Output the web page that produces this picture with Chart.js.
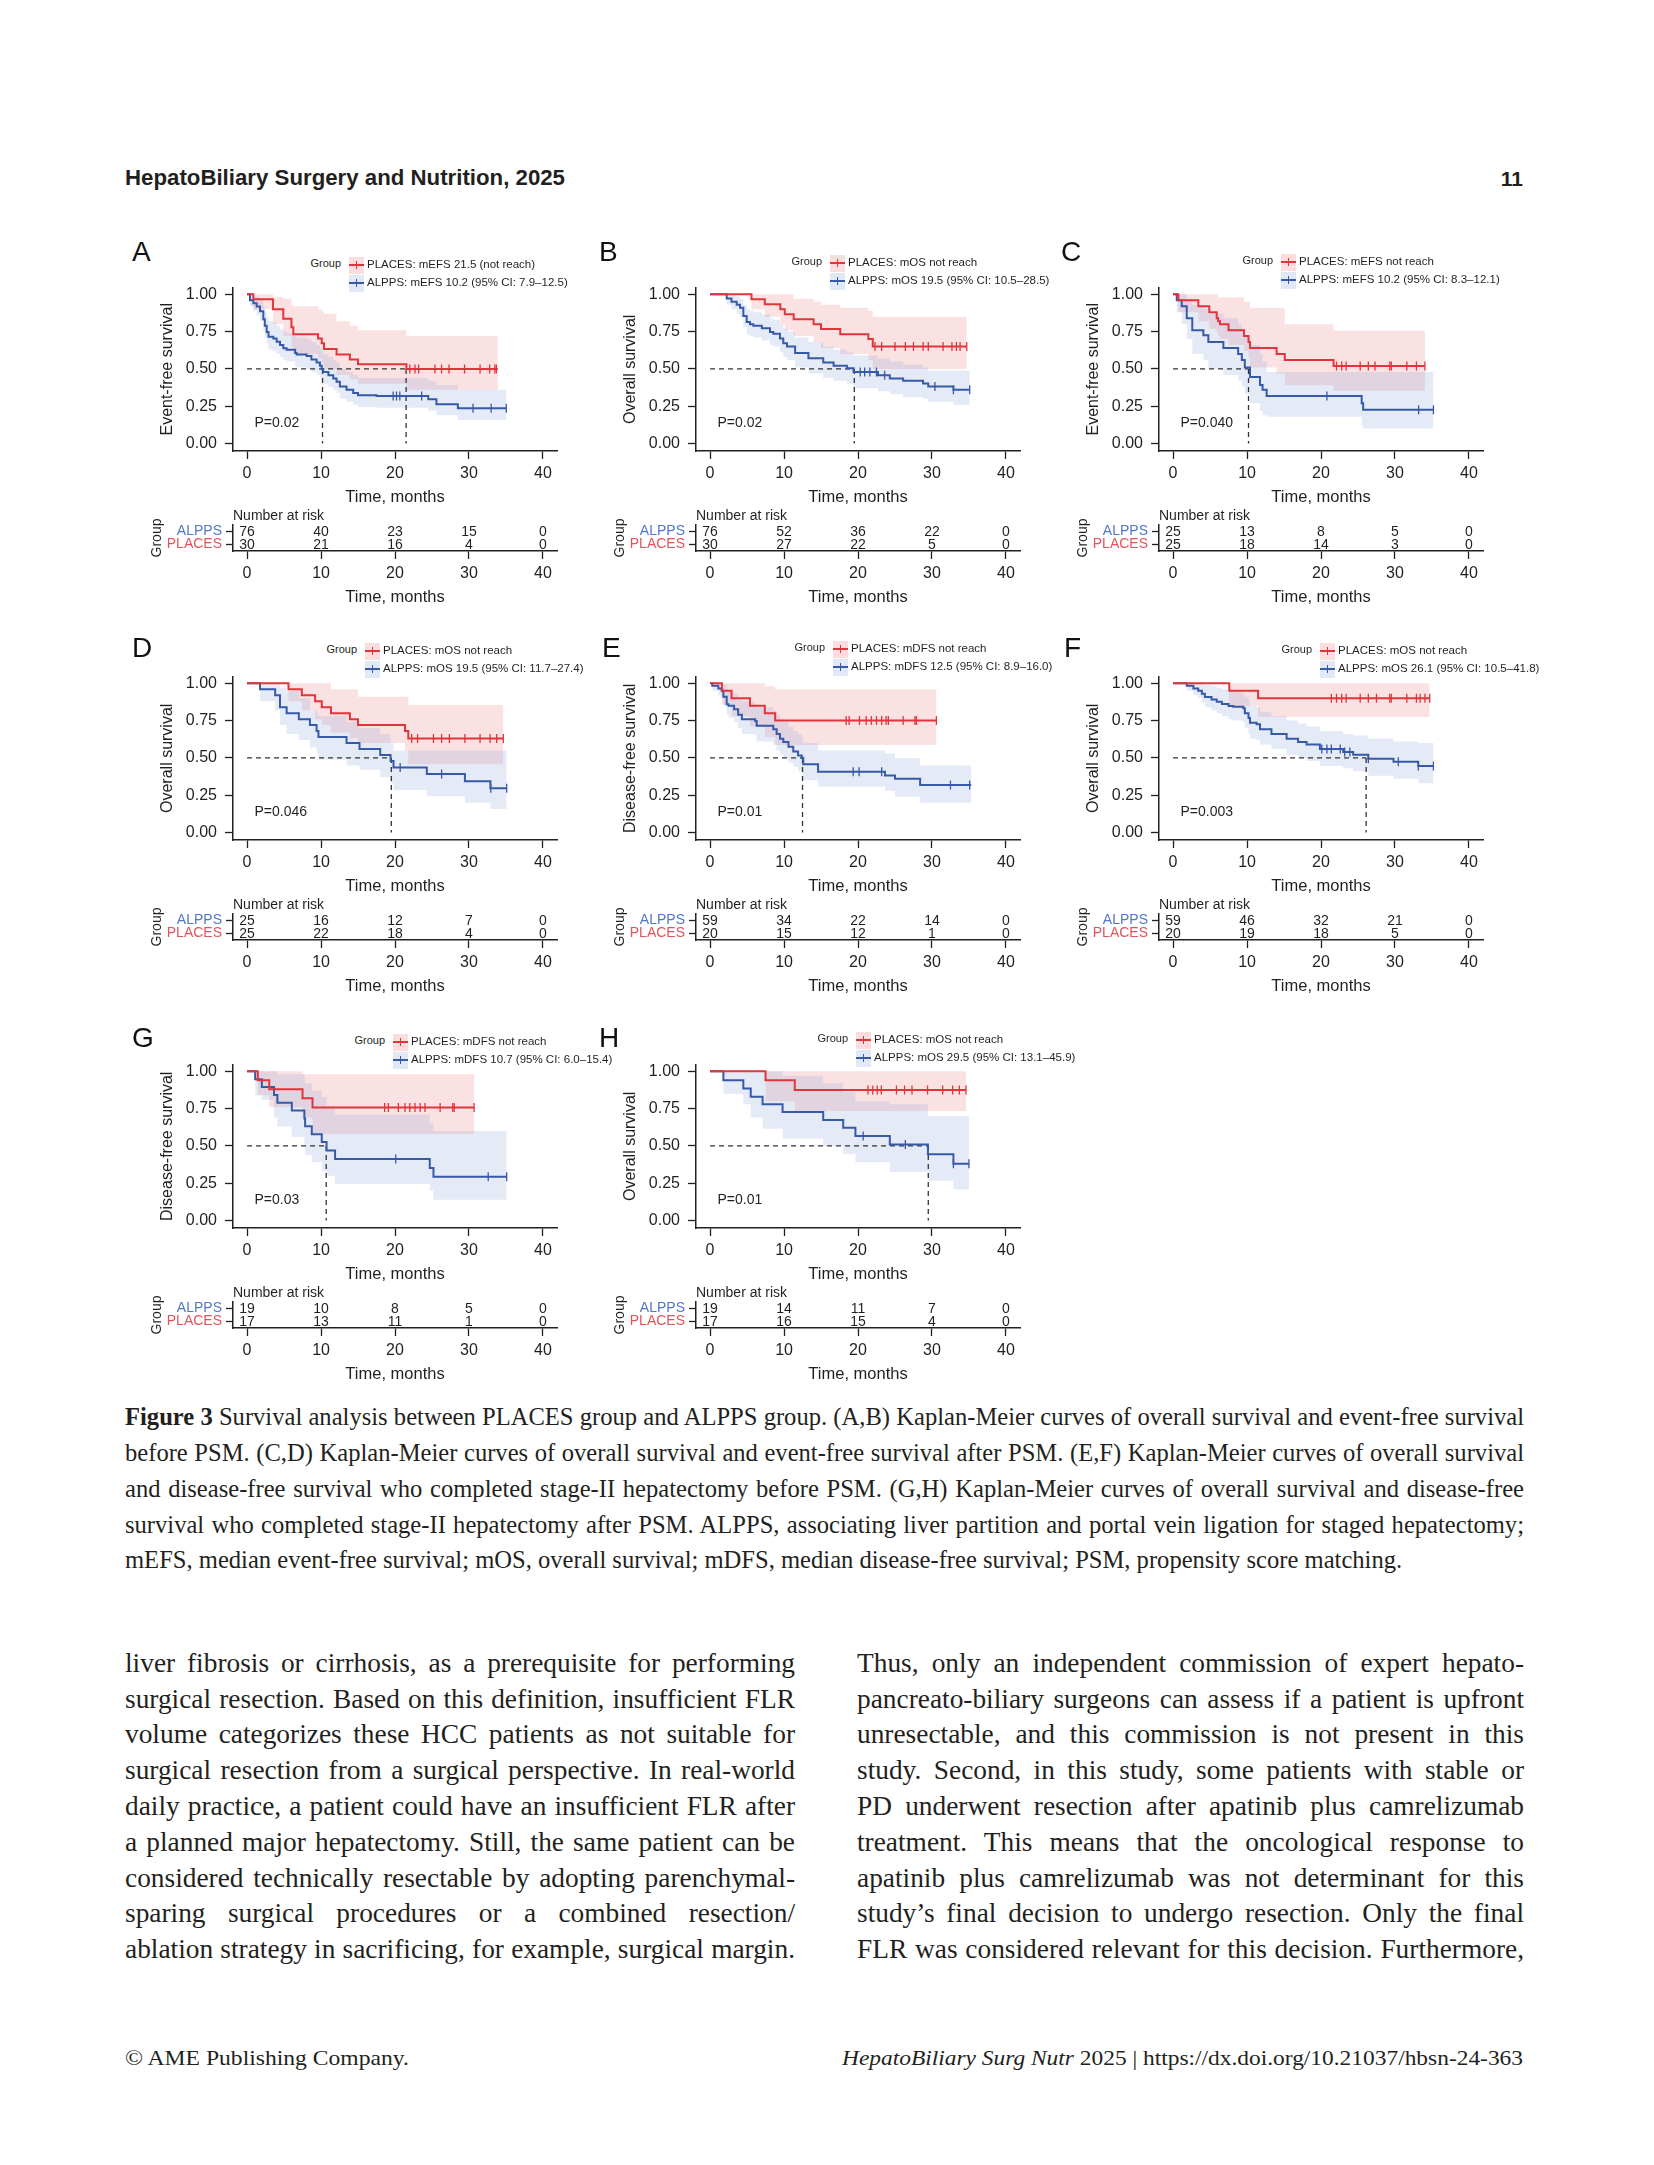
<!DOCTYPE html>
<html>
<head>
<meta charset="utf-8">
<title>Figure 3 - Kaplan-Meier curves</title>
<script src="https://cdn.jsdelivr.net/npm/chart.js@4.4.1/dist/chart.umd.min.js"></script>
<style>
  html, body { margin: 0; padding: 0; background: #fff; }
  body { position: relative; width: 1654px; height: 2165px; overflow: hidden; color: #231f20; }
  .txt { position: absolute; white-space: nowrap; line-height: 1; }
  .sans { font-family: 'Liberation Sans', Arial, Helvetica, sans-serif; }
  .serif { font-family: 'Liberation Serif', 'Times New Roman', serif; }
  canvas { position: absolute; }
  .box { position: absolute; }
</style>
</head>
<body>
<script>
// ---------- shared axis values ----------
const TIME_TICKS = [0, 10, 20, 30, 40];
const SURV_TICKS = [0, 0.25, 0.5, 0.75, 1];
const GROUPS = ['ALPPS', 'PLACES'];
const PANEL_IDS = ['A', 'B', 'C', 'D', 'E', 'F', 'G', 'H'];
const Y_LABELS = ['Event-free survival', 'Overall survival', 'Event-free survival', 'Overall survival',
                  'Disease-free survival', 'Overall survival', 'Disease-free survival', 'Overall survival'];
const P_VALUES = ['P=0.02', 'P=0.02', 'P=0.040', 'P=0.046', 'P=0.01', 'P=0.003', 'P=0.03', 'P=0.01'];
const PLACES_LEGEND = ['PLACES: mEFS 21.5 (not reach)', 'PLACES: mOS not reach', 'PLACES: mEFS not reach', 'PLACES: mOS not reach',
                       'PLACES: mDFS not reach', 'PLACES: mOS not reach', 'PLACES: mDFS not reach', 'PLACES: mOS not reach'];
const ALPPS_LEGEND = ['ALPPS: mEFS 10.2 (95% CI: 7.9–12.5)', 'ALPPS: mOS 19.5 (95% CI: 10.5–28.5)', 'ALPPS: mEFS 10.2 (95% CI: 8.3–12.1)',
                      'ALPPS: mOS 19.5 (95% CI: 11.7–27.4)', 'ALPPS: mDFS 12.5 (95% CI: 8.9–16.0)', 'ALPPS: mOS 26.1 (95% CI: 10.5–41.8)',
                      'ALPPS: mDFS 10.7 (95% CI: 6.0–15.4)', 'ALPPS: mOS 29.5 (95% CI: 13.1–45.9)'];
const MEDIANS = [[10.2, 21.5], [19.5], [10.2], [19.5], [12.5], [26.1], [10.7], [29.5]];

// ---------- A ----------
const A_PLACES_T = [0, 0.85, 3.5, 4.9, 6.0, 6.25, 9.6, 10.1, 10.4, 12.1, 13.9, 15.0, 21.55, 33.9];
const A_PLACES_S = [1, 0.967, 0.9, 0.837, 0.779, 0.732, 0.704, 0.672, 0.633, 0.597, 0.564, 0.532, 0.5, 0.5];
const A_PLACES_HI = [1, 1, 0.98, 0.97, 0.93, 0.92, 0.9, 0.886, 0.87, 0.82, 0.79, 0.76, 0.72, 0.72];
const A_PLACES_LO = [1, 0.9, 0.8, 0.72, 0.65, 0.6, 0.57, 0.54, 0.5, 0.46, 0.43, 0.4, 0.36, 0.36];
const A_PLACES_CENS = [22.0, 22.7, 23.2, 25.4, 26.3, 27.3, 29.4, 31.5, 32.8, 33.5, 33.7];
const A_ALPPS_T = [0, 0.4, 0.85, 1.3, 1.75, 2.2, 2.4, 2.65, 2.9, 3.55, 4.0, 4.45, 4.9, 5.35, 6.5, 6.7, 8.05, 8.7, 9.4, 9.85,
                   10.1, 10.3, 11.0, 11.65, 12.1, 12.55, 13.45, 14.35, 15.0, 17.5, 24.5, 25.6, 28.5, 35.05];
const A_ALPPS_S = [1, 0.961, 0.94, 0.918, 0.886, 0.833, 0.79, 0.747, 0.715, 0.704, 0.682, 0.661, 0.639, 0.629, 0.607, 0.597, 0.586, 0.564, 0.543, 0.521,
                   0.5, 0.479, 0.457, 0.436, 0.414, 0.382, 0.361, 0.339, 0.324, 0.318, 0.296, 0.264, 0.236, 0.236];
const A_ALPPS_HI = [1, 1, 0.99, 0.98, 0.96, 0.92, 0.88, 0.85, 0.82, 0.81, 0.79, 0.77, 0.75, 0.74, 0.72, 0.71, 0.7, 0.68, 0.66, 0.64,
                    0.62, 0.6, 0.58, 0.56, 0.54, 0.5, 0.48, 0.46, 0.44, 0.44, 0.42, 0.39, 0.36, 0.36];
const A_ALPPS_LO = [1, 0.92, 0.89, 0.86, 0.82, 0.76, 0.71, 0.67, 0.63, 0.62, 0.6, 0.58, 0.56, 0.55, 0.52, 0.51, 0.5, 0.48, 0.46, 0.44,
                    0.42, 0.4, 0.38, 0.36, 0.34, 0.3, 0.28, 0.26, 0.245, 0.24, 0.22, 0.19, 0.157, 0.157];
const A_ALPPS_CENS = [19.75, 20.2, 20.65, 23.6, 30.55, 33.0, 35.05];
const A_RISK_ALPPS = [76, 40, 23, 15, 0];
const A_RISK_PLACES = [30, 21, 16, 4, 0];

// ---------- B ----------
const B_PLACES_T = [0, 5.6, 7.4, 9.5, 10.1, 11.3, 14.0, 15.0, 17.6, 21.4, 22.0, 34.7];
const B_PLACES_S = [1, 0.967, 0.933, 0.9, 0.867, 0.833, 0.8, 0.767, 0.733, 0.7, 0.65, 0.65];
const B_PLACES_HI = [1, 1, 1, 1, 1, 0.97, 0.95, 0.93, 0.91, 0.89, 0.85, 0.85];
const B_PLACES_LO = [1, 0.9, 0.85, 0.8, 0.76, 0.72, 0.68, 0.64, 0.6, 0.56, 0.5, 0.5];
const B_PLACES_CENS = [22.3, 23.2, 25.0, 26.4, 27.5, 28.8, 29.5, 31.5, 32.7, 33.3, 33.8, 34.7];
const B_ALPPS_T = [0, 2.25, 2.9, 3.6, 4.05, 4.5, 4.95, 5.4, 5.85, 7.0, 8.1, 8.55, 9.45, 9.9, 10.4, 11.5, 13.3, 15.3, 16.7, 18.5,
                   19.4, 22.7, 24.3, 26.1, 28.8, 29.5, 32.9, 35.1];
const B_ALPPS_S = [1, 0.972, 0.95, 0.93, 0.91, 0.854, 0.815, 0.8, 0.79, 0.773, 0.747, 0.736, 0.704, 0.672, 0.65, 0.607, 0.571, 0.543, 0.521, 0.504,
                   0.479, 0.457, 0.436, 0.42, 0.403, 0.382, 0.36, 0.36];
const B_ALPPS_HI = [1, 1, 0.995, 0.985, 0.97, 0.93, 0.9, 0.89, 0.88, 0.865, 0.84, 0.83, 0.8, 0.77, 0.75, 0.71, 0.68, 0.65, 0.63, 0.61,
                    0.59, 0.57, 0.55, 0.53, 0.51, 0.49, 0.49, 0.49];
const B_ALPPS_LO = [1, 0.93, 0.9, 0.87, 0.85, 0.78, 0.73, 0.72, 0.71, 0.69, 0.66, 0.65, 0.61, 0.58, 0.56, 0.51, 0.47, 0.44, 0.42, 0.4,
                    0.37, 0.35, 0.33, 0.31, 0.3, 0.28, 0.258, 0.258];
const B_ALPPS_CENS = [20.3, 20.9, 21.6, 22.5, 23.6, 30.4, 32.9, 35.1];
const B_RISK_ALPPS = [76, 52, 36, 22, 0];
const B_RISK_PLACES = [30, 27, 22, 5, 0];

// ---------- C ----------
const C_PLACES_T = [0, 0.72, 3.42, 4.9, 5.9, 6.1, 6.35, 7.5, 9.6, 10.2, 10.4, 14.0, 15.1, 21.7, 34.05];
const C_PLACES_S = [1, 0.96, 0.92, 0.88, 0.84, 0.82, 0.8, 0.76, 0.72, 0.68, 0.64, 0.6, 0.56, 0.52, 0.52];
const C_PLACES_HI = [1, 1, 1, 1, 1, 0.98, 0.98, 0.98, 0.95, 0.95, 0.91, 0.91, 0.8, 0.757, 0.757];
const C_PLACES_LO = [1, 0.88, 0.82, 0.77, 0.75, 0.72, 0.7, 0.66, 0.62, 0.57, 0.51, 0.47, 0.39, 0.354, 0.354];
const C_PLACES_CENS = [22.1, 22.8, 23.4, 25.3, 26.4, 27.3, 29.3, 29.5, 31.6, 32.9, 34.05];
const C_ALPPS_T = [0, 0.5, 1.17, 1.85, 2.6, 4.1, 4.77, 6.8, 8.8, 9.3, 9.7, 10.4, 11.75, 12.1, 12.65, 25.5, 25.7, 35.2];
const C_ALPPS_S = [1, 0.96, 0.92, 0.84, 0.76, 0.725, 0.68, 0.64, 0.6, 0.56, 0.51, 0.446, 0.393, 0.36, 0.318, 0.27, 0.227, 0.227];
const C_ALPPS_HI = [1, 1, 1, 0.97, 0.93, 0.9, 0.87, 0.84, 0.8, 0.77, 0.72, 0.66, 0.6, 0.55, 0.48, 0.48, 0.48, 0.48];
const C_ALPPS_LO = [1, 0.88, 0.8, 0.7, 0.6, 0.56, 0.5, 0.46, 0.42, 0.38, 0.33, 0.27, 0.22, 0.19, 0.18, 0.12, 0.1, 0.1];
const C_ALPPS_CENS = [20.8, 33.2, 35.2];
const C_RISK_ALPPS = [25, 13, 8, 5, 0];
const C_RISK_PLACES = [25, 18, 14, 3, 0];

// ---------- D ----------
const D_PLACES_T = [0, 5.6, 7.4, 9.2, 10.1, 11.35, 13.9, 15.0, 21.35, 21.8, 34.65];
const D_PLACES_S = [1, 0.96, 0.92, 0.88, 0.84, 0.8, 0.76, 0.72, 0.68, 0.63, 0.63];
const D_PLACES_HI = [1, 1, 1, 1, 1, 0.96, 0.96, 0.91, 0.91, 0.855, 0.855];
const D_PLACES_LO = [1, 0.88, 0.82, 0.76, 0.72, 0.67, 0.63, 0.6, 0.55, 0.457, 0.457];
const D_PLACES_CENS = [22.25, 23.05, 25.2, 26.3, 27.35, 29.45, 31.5, 32.85, 33.75, 34.65];
const D_ALPPS_T = [0, 1.75, 3.8, 4.45, 5.35, 7.0, 8.5, 9.4, 9.65, 13.45, 15.2, 18.0, 19.4, 19.8, 24.3, 29.45, 32.9, 35.1];
const D_ALPPS_S = [1, 0.96, 0.92, 0.84, 0.8, 0.76, 0.72, 0.68, 0.64, 0.6, 0.56, 0.52, 0.48, 0.436, 0.393, 0.343, 0.296, 0.296];
const D_ALPPS_HI = [1, 1, 1, 0.97, 0.95, 0.9, 0.82, 0.8, 0.78, 0.74, 0.7, 0.66, 0.6, 0.55, 0.55, 0.55, 0.55, 0.55];
const D_ALPPS_LO = [1, 0.88, 0.82, 0.72, 0.66, 0.62, 0.57, 0.53, 0.49, 0.45, 0.42, 0.37, 0.33, 0.285, 0.243, 0.2, 0.157, 0.157];
const D_ALPPS_CENS = [20.7, 26.3, 32.95, 35.1];
const D_RISK_ALPPS = [25, 16, 12, 7, 0];
const D_RISK_PLACES = [25, 22, 18, 4, 0];

// ---------- E ----------
const E_PLACES_T = [0, 1.6, 2.9, 5.4, 7.4, 8.8, 30.6];
const E_PLACES_S = [1, 0.95, 0.9, 0.85, 0.8, 0.75, 0.75];
const E_PLACES_HI = [1, 1, 1, 1, 0.98, 0.96, 0.96];
const E_PLACES_LO = [1, 0.86, 0.78, 0.71, 0.64, 0.586, 0.586];
const E_PLACES_CENS = [18.4, 18.8, 20.2, 21.1, 21.8, 22.5, 23.2, 23.8, 24.1, 26.1, 27.7, 27.9, 30.6];
const E_ALPPS_T = [0, 0.3, 1.12, 1.57, 1.8, 2.25, 2.5, 3.25, 3.8, 4.3, 6.1, 6.3, 8.55, 9.0, 9.45, 9.9, 10.6, 11.25, 11.9, 12.4,
                   12.6, 14.6, 23.65, 25.0, 28.4, 35.3];
const E_ALPPS_S = [1, 0.983, 0.966, 0.95, 0.91, 0.86, 0.85, 0.826, 0.79, 0.76, 0.747, 0.715, 0.693, 0.66, 0.629, 0.607, 0.575, 0.543, 0.517, 0.5,
                   0.457, 0.408, 0.382, 0.36, 0.318, 0.318];
const E_ALPPS_HI = [1, 1, 1, 1, 0.99, 0.96, 0.95, 0.93, 0.9, 0.88, 0.86, 0.84, 0.82, 0.79, 0.76, 0.74, 0.71, 0.68, 0.66, 0.64,
                    0.6, 0.55, 0.53, 0.5, 0.45, 0.45];
const E_ALPPS_LO = [1, 0.95, 0.92, 0.9, 0.85, 0.79, 0.77, 0.74, 0.7, 0.66, 0.65, 0.61, 0.59, 0.55, 0.52, 0.5, 0.47, 0.44, 0.41, 0.39,
                    0.35, 0.307, 0.28, 0.24, 0.2, 0.2];
const E_ALPPS_CENS = [19.35, 20.15, 23.2, 32.5, 35.1];
const E_RISK_ALPPS = [59, 34, 22, 14, 0];
const E_RISK_PLACES = [20, 15, 12, 1, 0];

// ---------- F ----------
const F_PLACES_T = [0, 7.6, 11.5, 34.7];
const F_PLACES_S = [1, 0.95, 0.9, 0.9];
const F_PLACES_HI = [1, 1, 1, 1];
const F_PLACES_LO = [1, 0.85, 0.775, 0.775];
const F_PLACES_CENS = [21.4, 22.1, 22.8, 23.4, 25.3, 26.4, 27.5, 29.3, 29.5, 31.6, 32.9, 33.4, 34.05, 34.7];
const F_ALPPS_T = [0, 1.85, 2.75, 3.4, 3.9, 4.3, 5.2, 5.9, 6.6, 7.5, 8.15, 9.5, 9.7, 10.2, 10.4, 11.3, 11.75, 13.3, 15.35, 16.9,
                   18.05, 19.85, 23.0, 24.35, 26.4, 29.8, 33.15, 35.2];
const F_ALPPS_S = [1, 0.983, 0.966, 0.951, 0.93, 0.908, 0.891, 0.876, 0.861, 0.848, 0.843, 0.833, 0.8, 0.768, 0.736, 0.725, 0.693, 0.661, 0.629, 0.607,
                   0.59, 0.56, 0.539, 0.521, 0.494, 0.474, 0.446, 0.446];
const F_ALPPS_HI = [1, 1, 1, 1, 1, 0.99, 0.98, 0.97, 0.96, 0.95, 0.94, 0.93, 0.91, 0.88, 0.85, 0.84, 0.81, 0.78, 0.75, 0.73,
                    0.71, 0.68, 0.66, 0.65, 0.63, 0.61, 0.6, 0.6];
const F_ALPPS_LO = [1, 0.95, 0.92, 0.9, 0.87, 0.84, 0.82, 0.8, 0.78, 0.76, 0.75, 0.74, 0.7, 0.66, 0.63, 0.62, 0.59, 0.56, 0.52, 0.5,
                    0.48, 0.446, 0.43, 0.41, 0.38, 0.36, 0.33, 0.33];
const F_ALPPS_CENS = [20.1, 20.8, 21.4, 22.6, 23.2, 23.9, 26.4, 30.45, 33.15, 35.2];
const F_RISK_ALPPS = [59, 46, 32, 21, 0];
const F_RISK_PLACES = [20, 19, 18, 5, 0];

// ---------- G ----------
const G_PLACES_T = [0, 1.45, 3.0, 7.5, 8.85, 30.7];
const G_PLACES_S = [1, 0.94, 0.88, 0.82, 0.757, 0.757];
const G_PLACES_HI = [1, 1, 1, 0.98, 0.98, 0.98];
const G_PLACES_LO = [1, 0.84, 0.76, 0.69, 0.58, 0.58];
const G_PLACES_CENS = [18.6, 19.1, 20.45, 21.35, 22.0, 22.7, 23.4, 24.05, 26.1, 27.8, 28.0, 30.7];
const G_ALPPS_T = [0, 1.1, 2.0, 3.65, 4.1, 6.05, 7.75, 7.85, 8.75, 10.1, 10.75, 11.9, 24.7, 25.2, 35.1];
const G_ALPPS_S = [1, 0.947, 0.895, 0.842, 0.789, 0.737, 0.684, 0.632, 0.579, 0.526, 0.47, 0.412, 0.352, 0.294, 0.294];
const G_ALPPS_HI = [1, 1, 1, 1, 0.98, 0.98, 0.95, 0.92, 0.87, 0.83, 0.77, 0.71, 0.65, 0.6, 0.6];
const G_ALPPS_LO = [1, 0.84, 0.81, 0.69, 0.63, 0.56, 0.5, 0.44, 0.39, 0.33, 0.3, 0.245, 0.2, 0.14, 0.14];
const G_ALPPS_CENS = [20.1, 32.6, 35.1];
const G_RISK_ALPPS = [19, 10, 8, 5, 0];
const G_RISK_PLACES = [17, 13, 11, 1, 0];

// ---------- H ----------
const H_PLACES_T = [0, 7.5, 11.45, 34.6];
const H_PLACES_S = [1, 0.94, 0.875, 0.875];
const H_PLACES_HI = [1, 1, 1, 1];
const H_PLACES_LO = [1, 0.8, 0.734, 0.734];
const H_PLACES_CENS = [21.35, 22.0, 22.6, 23.15, 25.2, 26.3, 27.3, 29.4, 31.45, 32.8, 33.7, 34.6];
const H_ALPPS_T = [0, 1.8, 4.5, 5.5, 7.1, 9.8, 15.3, 18.0, 19.65, 24.3, 29.45, 32.9, 35.0];
const H_ALPPS_S = [1, 0.94, 0.885, 0.83, 0.78, 0.727, 0.674, 0.622, 0.567, 0.509, 0.444, 0.38, 0.38];
const H_ALPPS_HI = [1, 1, 1, 1, 1, 0.97, 0.92, 0.86, 0.8, 0.78, 0.7, 0.7, 0.7];
const H_ALPPS_LO = [1, 0.85, 0.78, 0.69, 0.615, 0.55, 0.5, 0.444, 0.39, 0.326, 0.266, 0.208, 0.208];
const H_ALPPS_CENS = [20.7, 26.4, 32.9, 35.0];
const H_RISK_ALPPS = [19, 14, 11, 7, 0];
const H_RISK_PLACES = [17, 16, 15, 4, 0];

// ---------- page text ----------
const CAPTION_LINES = [
  '<b>Figure 3</b> Survival analysis between PLACES group and ALPPS group. (A,B) Kaplan-Meier curves of overall survival and event-free survival',
  'before PSM. (C,D) Kaplan-Meier curves of overall survival and event-free survival after PSM. (E,F) Kaplan-Meier curves of overall survival',
  'and disease-free survival who completed stage-II hepatectomy before PSM. (G,H) Kaplan-Meier curves of overall survival and disease-free',
  'survival who completed stage-II hepatectomy after PSM. ALPPS, associating liver partition and portal vein ligation for staged hepatectomy;',
  'mEFS, median event-free survival; mOS, overall survival; mDFS, median disease-free survival; PSM, propensity score matching.'
];
const BODY_LEFT = [
  'liver fibrosis or cirrhosis, as a prerequisite for performing',
  'surgical resection. Based on this definition, insufficient FLR',
  'volume categorizes these HCC patients as not suitable for',
  'surgical resection from a surgical perspective. In real-world',
  'daily practice, a patient could have an insufficient FLR after',
  'a planned major hepatectomy. Still, the same patient can be',
  'considered technically resectable by adopting parenchymal-',
  'sparing surgical procedures or a combined resection/',
  'ablation strategy in sacrificing, for example, surgical margin.'
];
const BODY_RIGHT = [
  'Thus, only an independent commission of expert hepato-',
  'pancreato-biliary surgeons can assess if a patient is upfront',
  'unresectable, and this commission is not present in this',
  'study. Second, in this study, some patients with stable or',
  'PD underwent resection after apatinib plus camrelizumab',
  'treatment. This means that the oncological response to',
  'apatinib plus camrelizumab was not determinant for this',
  'study’s final decision to undergo resection. Only the final',
  'FLR was considered relevant for this decision. Furthermore,'
];

// ---------- look ----------
const FONT = "'Liberation Sans', Arial, Helvetica, sans-serif";
const INK = '#231f20';
const RED = '#e2343b';
const BLUE = '#375aa8';
const RED_FILL = 'rgba(235, 110, 110, 0.2)';
const BLUE_FILL = 'rgba(110, 140, 210, 0.18)';
const RED_TXT = '#e4535b';
const BLUE_TXT = '#5276cc';
const X_MIN = -1.9, X_MAX = 41.9;
const Y_MIN = -0.05, Y_MAX = 1.045;
const P_POS = [1, 0.14];

const COL_X = [233, 696, 1159];   // y-axis line of each column
const ROW_Y = [287, 676, 1064];   // pixel row of survival 1.00
const LETTER_POS = [[133, 242], [600, 242], [1062, 242], [133, 638], [603, 638], [1065, 638], [133, 1028], [600, 1028]];
const LEGEND_DX = [116, 134, 122, 132, 137, 161, 160, 160];
const LEGEND_DY = [-22, -24, -25, -25, -27, -25, -22, -24];

function grp(t, s, lo, hi, cens) { return { t, s, lo, hi, cens }; }
const CURVES = [
  { alpps: grp(A_ALPPS_T, A_ALPPS_S, A_ALPPS_LO, A_ALPPS_HI, A_ALPPS_CENS), places: grp(A_PLACES_T, A_PLACES_S, A_PLACES_LO, A_PLACES_HI, A_PLACES_CENS), risk: [A_RISK_ALPPS, A_RISK_PLACES] },
  { alpps: grp(B_ALPPS_T, B_ALPPS_S, B_ALPPS_LO, B_ALPPS_HI, B_ALPPS_CENS), places: grp(B_PLACES_T, B_PLACES_S, B_PLACES_LO, B_PLACES_HI, B_PLACES_CENS), risk: [B_RISK_ALPPS, B_RISK_PLACES] },
  { alpps: grp(C_ALPPS_T, C_ALPPS_S, C_ALPPS_LO, C_ALPPS_HI, C_ALPPS_CENS), places: grp(C_PLACES_T, C_PLACES_S, C_PLACES_LO, C_PLACES_HI, C_PLACES_CENS), risk: [C_RISK_ALPPS, C_RISK_PLACES] },
  { alpps: grp(D_ALPPS_T, D_ALPPS_S, D_ALPPS_LO, D_ALPPS_HI, D_ALPPS_CENS), places: grp(D_PLACES_T, D_PLACES_S, D_PLACES_LO, D_PLACES_HI, D_PLACES_CENS), risk: [D_RISK_ALPPS, D_RISK_PLACES] },
  { alpps: grp(E_ALPPS_T, E_ALPPS_S, E_ALPPS_LO, E_ALPPS_HI, E_ALPPS_CENS), places: grp(E_PLACES_T, E_PLACES_S, E_PLACES_LO, E_PLACES_HI, E_PLACES_CENS), risk: [E_RISK_ALPPS, E_RISK_PLACES] },
  { alpps: grp(F_ALPPS_T, F_ALPPS_S, F_ALPPS_LO, F_ALPPS_HI, F_ALPPS_CENS), places: grp(F_PLACES_T, F_PLACES_S, F_PLACES_LO, F_PLACES_HI, F_PLACES_CENS), risk: [F_RISK_ALPPS, F_RISK_PLACES] },
  { alpps: grp(G_ALPPS_T, G_ALPPS_S, G_ALPPS_LO, G_ALPPS_HI, G_ALPPS_CENS), places: grp(G_PLACES_T, G_PLACES_S, G_PLACES_LO, G_PLACES_HI, G_PLACES_CENS), risk: [G_RISK_ALPPS, G_RISK_PLACES] },
  { alpps: grp(H_ALPPS_T, H_ALPPS_S, H_ALPPS_LO, H_ALPPS_HI, H_ALPPS_CENS), places: grp(H_PLACES_T, H_PLACES_S, H_PLACES_LO, H_PLACES_HI, H_PLACES_CENS), risk: [H_RISK_ALPPS, H_RISK_PLACES] }
];

// ---------- helpers ----------
const pts = (t, v) => t.map((x, i) => ({ x, y: v[i] }));

// KM value at time t (step function, last event at or before t)
function stepAt(t, s, x) {
  let v = s[0];
  for (let i = 0; i < t.length; i++) { if (t[i] <= x) v = s[i]; }
  return v;
}

function addCanvas(left, top, w, h) {
  const cv = document.createElement('canvas');
  cv.width = w; cv.height = h;
  cv.style.left = left + 'px'; cv.style.top = top + 'px';
  cv.style.width = w + 'px'; cv.style.height = h + 'px';
  document.body.appendChild(cv);
  return cv;
}

function textAt(html, left, baseline, size, cls, css) {
  const d = document.createElement('div');
  d.className = 'txt ' + (cls || 'sans');
  d.style.left = left + 'px';
  d.style.top = (baseline - 0.845 * size) + 'px';
  d.style.fontSize = size + 'px';
  if (css) d.style.cssText += css;
  d.innerHTML = html;
  document.body.appendChild(d);
  return d;
}

function box(left, top, w, h, bg) {
  const d = document.createElement('div');
  d.className = 'box';
  d.style.cssText = `left:${left}px;top:${top}px;width:${w}px;height:${h}px;background:${bg};`;
  document.body.appendChild(d);
}

const xAxis = () => ({
  type: 'linear', min: X_MIN, max: X_MAX,
  afterBuildTicks: s => { s.ticks = TIME_TICKS.map(v => ({ value: v })); },
  afterFit: s => { s.height = 60; },
  grid: { drawOnChartArea: false, drawTicks: true, tickLength: 8, color: INK, tickWidth: 1.3 },
  border: { display: true, color: INK, width: 1.5 },
  ticks: { font: { family: FONT, size: 16 }, color: INK, padding: 5, maxRotation: 0 },
  title: { display: true, text: 'Time, months', font: { family: FONT, size: 16.5 }, color: INK, padding: { top: 0, bottom: 4 } }
});

const pValuePlugin = {
  id: 'pValue',
  afterDatasetsDraw(chart, args, opts) {
    const { ctx, scales: { x, y } } = chart;
    ctx.save();
    ctx.font = `14px ${FONT}`;
    ctx.fillStyle = INK;
    ctx.textBaseline = 'middle';
    ctx.fillText(opts.text, x.getPixelForValue(P_POS[0]), y.getPixelForValue(P_POS[1]));
    ctx.restore();
  }
};

const riskPlugin = {
  id: 'riskNumbers',
  afterDatasetsDraw(chart) {
    const { ctx, chartArea } = chart;
    ctx.save();
    ctx.font = `14px ${FONT}`;
    ctx.fillStyle = INK;
    ctx.textAlign = 'center';
    ctx.textBaseline = 'middle';
    chart.data.datasets.forEach((ds, di) => {
      chart.getDatasetMeta(di).data.forEach((pt, i) => ctx.fillText(String(ds.counts[i]), pt.x, pt.y + 1));
    });
    ctx.textAlign = 'left';
    ctx.fillText('Number at risk', chartArea.left, chartArea.top - 9);
    ctx.restore();
  }
};

function dashLine(data) {
  return { data, borderColor: '#333', borderWidth: 1.3, borderDash: [5, 4], pointRadius: 0, fill: false, order: 3 };
}

// ---------- survival panel ----------
function kmChart(k) {
  const ax = COL_X[k % 3], ty = ROW_Y[Math.floor(k / 3)];
  const c = CURVES[k];
  const cv = addCanvas(ax - 100, ty - 17, 440, 241);
  const ds = [];

  // confidence bands (upper line then lower filled to it)
  [[c.alpps, BLUE_FILL], [c.places, RED_FILL]].forEach(([g, col]) => {
    ds.push({ data: pts(g.t, g.hi), stepped: true, borderWidth: 0, borderColor: 'rgba(0,0,0,0)', pointRadius: 0, fill: false, order: 5 });
    ds.push({ data: pts(g.t, g.lo), stepped: true, borderWidth: 0, borderColor: 'rgba(0,0,0,0)', pointRadius: 0, fill: '-1', backgroundColor: col, order: 5 });
  });

  // median guide lines
  const meds = MEDIANS[k];
  ds.push(dashLine([{ x: 0, y: 0.5 }, { x: Math.max(...meds), y: 0.5 }]));
  meds.forEach(m => ds.push(dashLine([{ x: m, y: 0.5 }, { x: m, y: 0 }])));

  // curves + censor ticks
  [[c.places, RED], [c.alpps, BLUE]].forEach(([g, col]) => {
    ds.push({ data: pts(g.t, g.s), stepped: true, borderColor: col, borderWidth: 2, pointRadius: 0, fill: false, order: 1 });
    ds.push({
      data: g.cens.map(t => ({ x: t, y: stepAt(g.t, g.s, t) })), showLine: false,
      pointStyle: 'line', pointRotation: 90, pointRadius: 4.5, pointBorderColor: col, pointBorderWidth: 1.3,
      borderColor: col, order: 0
    });
  });

  new Chart(cv, {
    type: 'line',
    data: { datasets: ds },
    options: {
      responsive: false, animation: false, events: [],
      layout: { padding: { top: 10, right: 16, left: 0, bottom: 0 } },
      plugins: { legend: { display: false }, tooltip: { enabled: false }, pValue: { text: P_VALUES[k] } },
      scales: {
        x: xAxis(),
        y: {
          min: Y_MIN, max: Y_MAX,
          afterBuildTicks: s => { s.ticks = SURV_TICKS.map(v => ({ value: v })); },
          afterFit: s => { s.width = 100; },
          grid: { drawOnChartArea: false, drawTicks: true, tickLength: 8, color: INK, tickWidth: 1.3 },
          border: { display: true, color: INK, width: 1.5 },
          ticks: { font: { family: FONT, size: 16 }, color: INK, padding: 8, callback: v => Number(v).toFixed(2) },
          title: { display: true, text: Y_LABELS[k], font: { family: FONT, size: 16 }, color: INK, padding: { top: 25, bottom: 0 } }
        }
      }
    },
    plugins: [pValuePlugin]
  });
}

// ---------- number-at-risk table ----------
function riskChart(k) {
  const ax = COL_X[k % 3], ty = ROW_Y[Math.floor(k / 3)];
  const cv = addCanvas(ax - 100, ty + 218, 440, 106);
  const risk = CURVES[k].risk;
  const ds = GROUPS.map((g, r) => ({
    data: TIME_TICKS.map(t => ({ x: t, y: g })), counts: risk[r], pointRadius: 0, showLine: false
  }));
  new Chart(cv, {
    type: 'scatter',
    data: { datasets: ds },
    options: {
      responsive: false, animation: false, events: [],
      layout: { padding: { top: 20, right: 16, left: 0, bottom: 0 } },
      plugins: { legend: { display: false }, tooltip: { enabled: false } },
      scales: {
        x: xAxis(),
        y: {
          type: 'category', labels: GROUPS, offset: true,
          afterFit: s => { s.width = 100; },
          grid: { drawOnChartArea: false, drawTicks: true, tickLength: 7, color: INK, tickWidth: 1.3, offset: false },
          border: { display: true, color: INK, width: 1.5 },
          ticks: { font: { family: FONT, size: 14 }, color: c => (c.index === 0 ? BLUE_TXT : RED_TXT), padding: 4, autoSkip: false },
          title: { display: true, text: 'Group', font: { family: FONT, size: 14 }, color: INK, padding: { top: 15.6, bottom: 0 } }
        }
      }
    },
    plugins: [riskPlugin]
  });
}

// ---------- legend (HTML) ----------
function legend(k) {
  const ax = COL_X[k % 3], ty = ROW_Y[Math.floor(k / 3)];
  const mx = ax + LEGEND_DX[k], y1 = ty + LEGEND_DY[k];
  textAt('Group', mx - 8, y1 + 2, 11, 'sans', 'transform:translateX(-100%);');
  [[PLACES_LEGEND[k], RED, 'rgba(240,120,120,0.25)'], [ALPPS_LEGEND[k], BLUE, 'rgba(120,150,215,0.22)']].forEach(([label, col, fill], r) => {
    const y = y1 + r * 18;
    box(mx, y - 8, 15, 17, fill);
    box(mx, y - 1, 15, 2, col);
    box(mx + 7, y - 4, 1.3, 8, col);
    textAt(label, mx + 18, y + 4, 11.5, 'sans');
  });
}

// ---------- page ----------
function fitWidth(el, w) {
  const nat = el.getBoundingClientRect().width;
  el.style.transformOrigin = '0 0';
  el.style.transform = `scaleX(${w / nat})`;
}
function justify(el, w) {
  el.style.wordSpacing = '0px';
  const nat = el.getBoundingClientRect().width;
  const n = (el.textContent.match(/ /g) || []).length;
  if (n) el.style.wordSpacing = ((w - nat) / n) + 'px';
}
// font size at which the widest line of a block just fits the column
function fitSize(lines, base, width, cls) {
  let widest = 0;
  lines.forEach(s => {
    const el = textAt(s, 0, 0, base, cls);
    widest = Math.max(widest, el.getBoundingClientRect().width);
    el.remove();
  });
  return base * width / widest;
}

function buildPage() {
  const hdr = textAt('HepatoBiliary Surgery and Nutrition, 2025', 125, 186, 22, 'sans', 'font-weight:bold;');
  fitWidth(hdr, 440);
  textAt('11', 1523, 186, 21, 'sans', 'font-weight:bold;transform:translateX(-100%);');

  LETTER_POS.forEach(([x, y], k) => textAt(PANEL_IDS[k], x - 1, y + 20, 28, 'sans', 'color:#111;'));

  // caption: size fitted to the unjustified last line
  const capSize = fitSize([CAPTION_LINES[4]], 22, 1278, 'serif');
  CAPTION_LINES.forEach((html, i) => {
    const el = textAt(html, 125, 1426 + i * 35.8, capSize, 'serif');
    if (i < 4) justify(el, 1399);
  });

  // body columns: the tightest line sets the size, others are spread
  const bodySize = Math.min(fitSize(BODY_LEFT, 24, 668, 'serif'), fitSize(BODY_RIGHT, 24, 665, 'serif'));
  BODY_LEFT.forEach((s, i) => justify(textAt(s, 125, 1673 + i * 35.8, bodySize, 'serif'), 670));
  BODY_RIGHT.forEach((s, i) => justify(textAt(s, 857, 1673 + i * 35.8, bodySize, 'serif'), 667));

  fitWidth(textAt('© AME Publishing Company.', 125, 2066, 21, 'serif'), 284);
  fitWidth(textAt('<i>HepatoBiliary Surg Nutr</i> 2025 | https://dx.doi.org/10.21037/hbsn-24-363', 842, 2066, 21, 'serif'), 681);
}

for (let k = 0; k < 8; k++) {
  kmChart(k);
  riskChart(k);
  legend(k);
}
buildPage();
</script>
</body>
</html>
